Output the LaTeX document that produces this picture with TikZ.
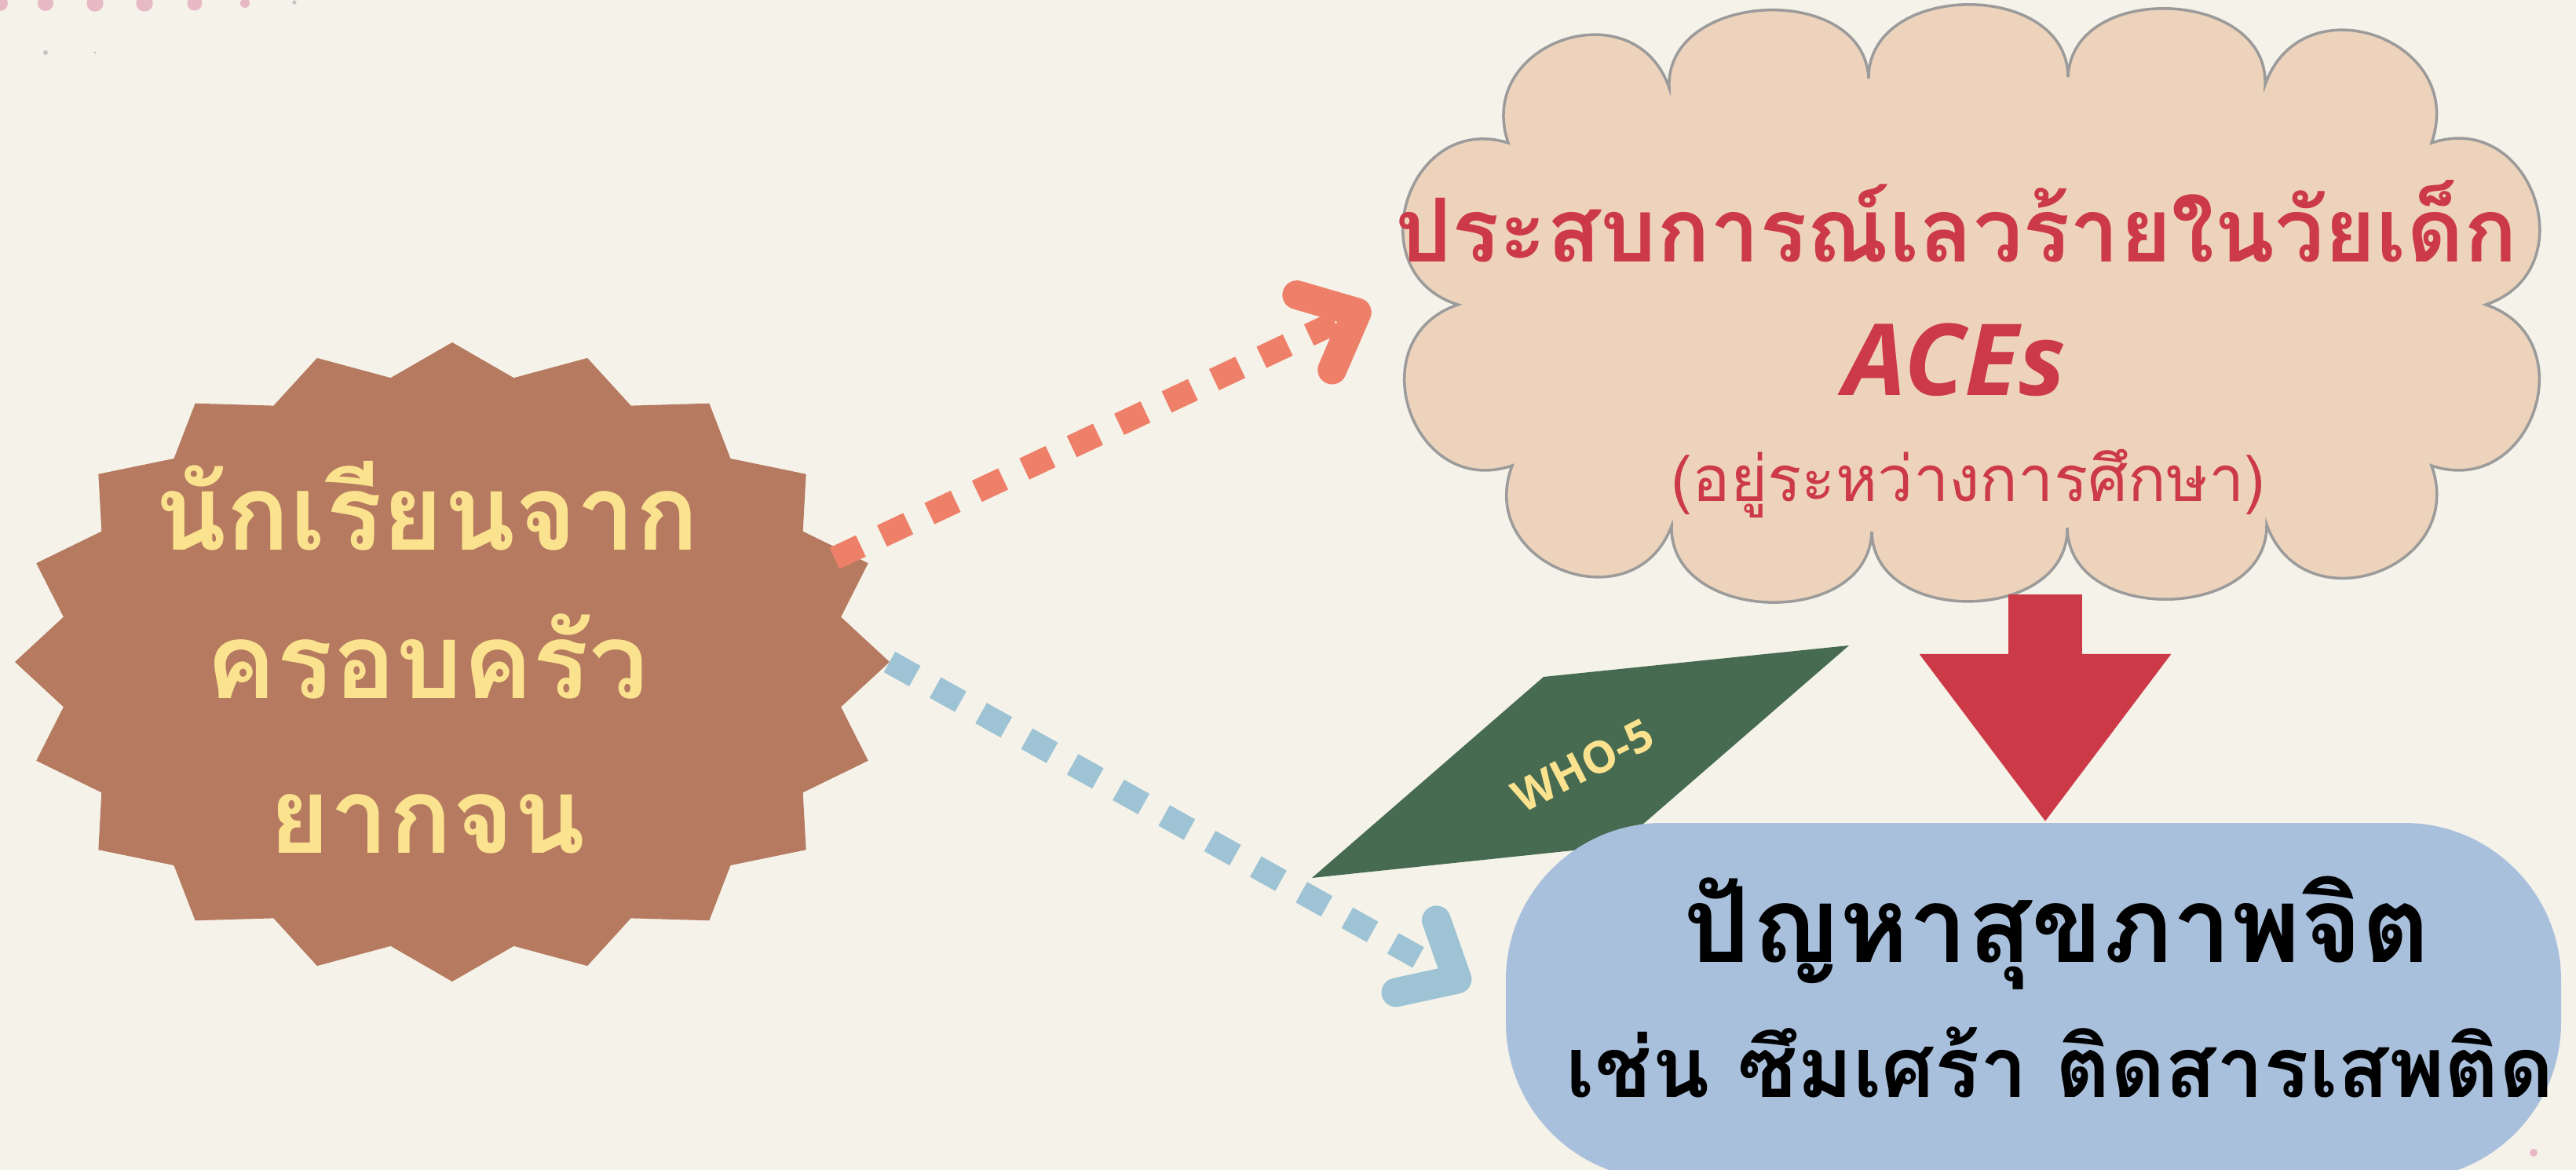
\documentclass[tikz,border=0pt]{standalone}
\usepackage{fontspec}
\usepackage{tikz}
\usetikzlibrary{arrows.meta,positioning}
\newfontfamily\thaifont[Script=Thai]{Loma}
\newfontfamily\whofont{Open Sans}

\definecolor{paper}{HTML}{F5F2E9}
\definecolor{dotpink}{HTML}{E7B9C4}
\definecolor{dotgrey}{HTML}{C9C2C2}
\definecolor{poorbrown}{HTML}{B57A5F}
\definecolor{pooryellow}{HTML}{FBE28F}
\definecolor{cloudface}{HTML}{EDD3BB}
\definecolor{cloudline}{HTML}{9B9B9B}
\definecolor{acesred}{HTML}{CD3A47}
\definecolor{whogreen}{HTML}{466B50}
\definecolor{mentalblue}{HTML}{A9C0DD}
\definecolor{linkorange}{HTML}{EE8069}
\definecolor{linkblue}{HTML}{9DC3D5}

\begin{document}
\begin{tikzpicture}[y=-1cm,
  link/.style={line width=8.5pt, dash pattern=on 10.5pt off 8.5pt,
    -{Straight Barb[round, length=17pt, width=30pt, line width=2pt 1]}},
  thaibig/.style={font=\thaifont\bfseries\fontsize{#1}{#1}\selectfont},
  thaithin/.style={font=\thaifont\fontsize{#1}{#1}\selectfont}]

  % background
  \fill[paper] (0,0) rectangle (32.81,14.90);
  \useasboundingbox (0,0) rectangle (32.81,14.90);

  % dots in the corners
  \foreach \x/\r in {0/0.10, 0.58/0.10, 1.21/0.107, 1.84/0.107, 2.48/0.095, 3.12/0.06}
    \fill[dotpink] (\x,0.04) circle (\r);
  \fill[dotgrey] (3.75,0.03) circle (0.027);
  \fill[dotgrey] (0.58,0.67) circle (0.03);
  \fill[dotgrey] (1.21,0.67) circle (0.016);
  \foreach \p in {(32.28,14.05),(31.65,14.68),(32.27,14.68)}
    \fill[dotpink] \p circle (0.05);

  % the star
  \fill[poorbrown] (5.76,4.36)
    \foreach \k in {1,...,39} {
      -- ({5.76+5.57*(0.95+0.05*cos(\k*180))*sin(\k*9)},
          {8.43-4.07*(0.95+0.05*cos(\k*180))*cos(\k*9)})
    } -- cycle;
  \begin{scope}[every node/.style={anchor=base, inner sep=0pt, text=pooryellow, thaibig=38pt}]
    \node (poor1) at (5.44,7.00) {นักเรียนจาก};
    \node (poor2) at (5.44,8.90) {ครอบครัว};
    \node (poor3) at (5.44,10.86) {ยากจน};
  \end{scope}

  % the cloud
  \foreach \n/\xy in {1/{19.21,1.82}, 2/{21.26,1.12}, 3/{23.80,1.00}, 4/{26.34,0.98},
      5/{28.85,1.08}, 6/{30.97,1.82}, 7/{31.66,3.88}, 8/{30.97,5.93}, 9/{28.87,6.68},
      10/{26.33,6.72}, 11/{23.84,6.77}, 12/{21.29,6.70}, 13/{19.26,5.93}, 14/{18.57,3.88}}
    \coordinate (c\n) at (\xy);
  \filldraw[fill=cloudface, draw=cloudline, line width=1pt] (c1)
    \foreach \n/\l in {2/1.6, 3/1.25, 4/1.25, 5/1.25, 6/1.6, 7/1.6, 8/1.6,
        9/1.6, 10/1.25, 11/1.25, 12/1.25, 13/1.6, 14/1.6}
      { to[bend left=90, looseness=\l] (c\n) }
    to[bend left=90, looseness=1.6] (c1) -- cycle;
  \begin{scope}[every node/.style={anchor=base, inner sep=0pt, text=acesred}]
    \node[thaibig=32pt] (adverse) at (24.92,3.34) {ประสบการณ์เลวร้ายในวัยเด็ก};
    \node[font=\whofont\bfseries\itshape\fontsize{36pt}{36pt}\selectfont] (aces) at (24.90,5.04) {ACEs};
    \node[thaithin=23pt] (study) at (25.07,6.38) {(อยู่ระหว่างการศึกษา)};
  \end{scope}

  % WHO-5 tag
  \fill[whogreen] (19.66,8.62) -- (23.55,8.22) -- (20.61,10.77) -- (16.71,11.18) -- cycle;
  \node[rotate=27, text=pooryellow, font=\whofont\bfseries\fontsize{16pt}{16pt}\selectfont] (who) at (20.16,9.75) {WHO-5};

  % mental health box
  \node[fill=mentalblue, rounded corners=2cm, minimum width=13.44cm, minimum height=4.54cm] (mental) at (25.90,12.75) {};
  \begin{scope}[every node/.style={anchor=base, inner sep=0pt, text=black}]
    \node[thaibig=38pt] (mental1) at (26.20,12.25) {ปัญหาสุขภาพจิต};
    \node[thaibig=30.5pt] (mental2) at (26.24,13.97) {เช่น ซึมเศร้า ติดสารเสพติด};
  \end{scope}

  % connectors
  \coordinate (poorNE) at (10.63,7.11);
  \coordinate (poorE) at (11.33,8.43);
  \coordinate (adverseW) at (17.45,3.90);
  \coordinate (mentalW) at (18.72,12.56);
  \coordinate (drop) at (26.05,7.57);
  \draw[link, linkorange] (poorNE) -- (adverseW);
  \draw[link, linkblue] (poorE) -- (mentalW);
  \draw[acesred, line width=26.7pt, -{Triangle[length=61pt, width=87pt]}] (drop) -- (drop |- mental.north);
\end{tikzpicture}
\end{document}
